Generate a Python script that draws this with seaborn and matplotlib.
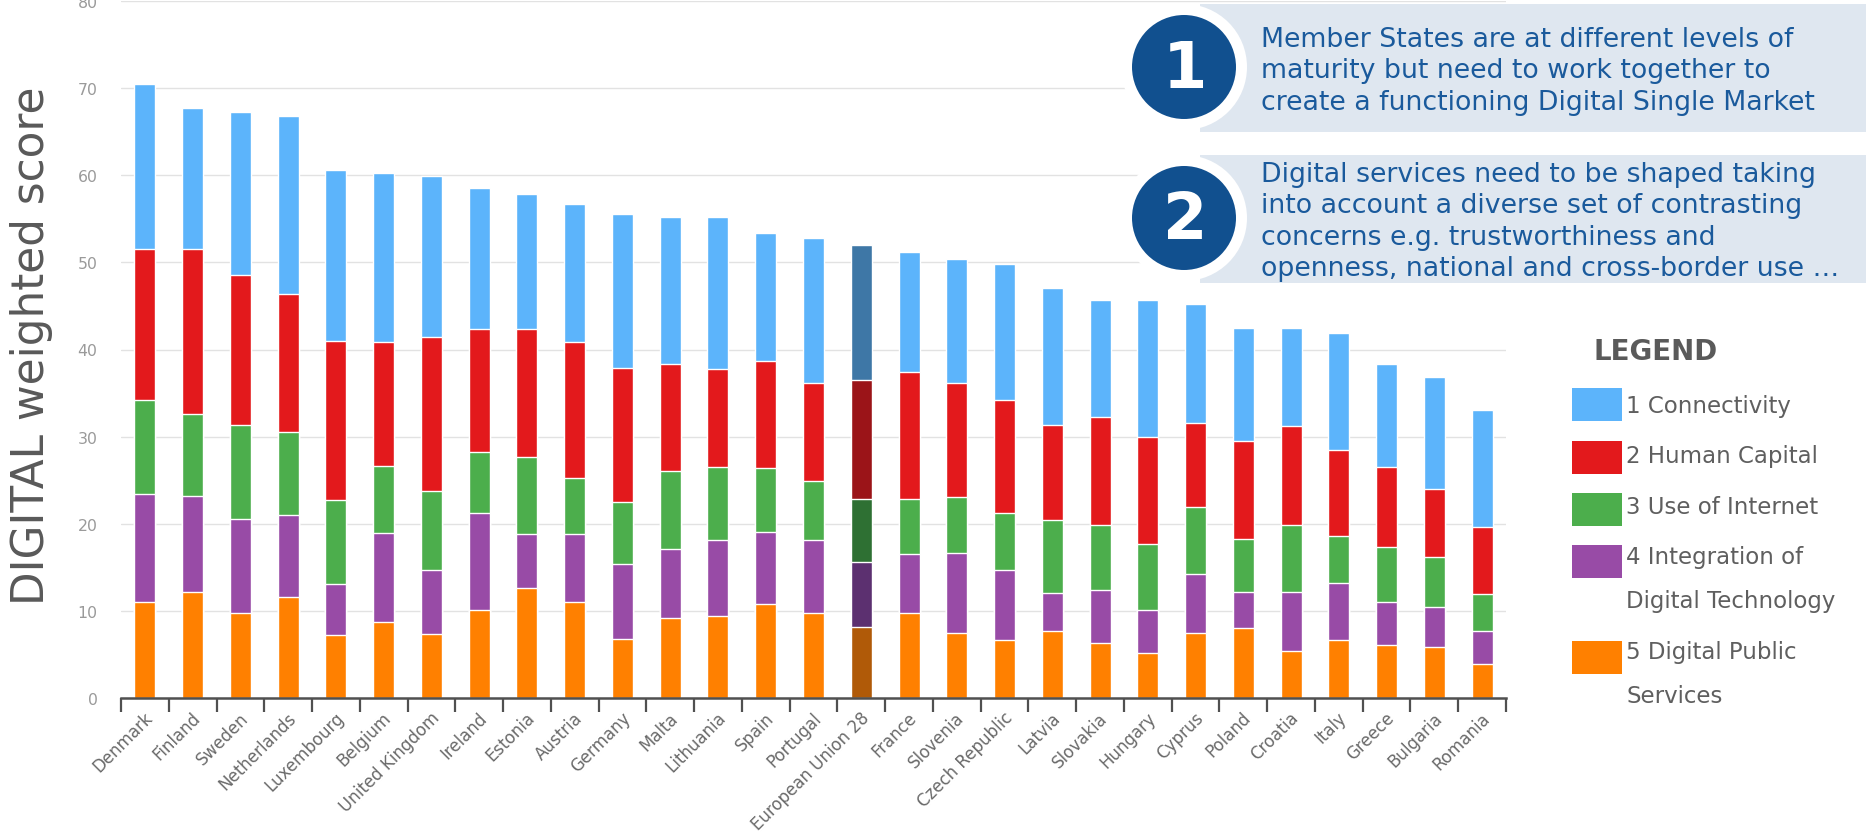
import numpy as np
import pandas as pd
import seaborn as sns
import matplotlib.pyplot as plt
from matplotlib.patches import Rectangle, Ellipse
from matplotlib.transforms import ScaledTranslation

# DESI scores
countries = ['Denmark', 'Finland', 'Sweden', 'Netherlands', 'Luxembourg', 'Belgium',
             'United Kingdom', 'Ireland', 'Estonia', 'Austria', 'Germany', 'Malta',
             'Lithuania', 'Spain', 'Portugal', 'European Union 28', 'France', 'Slovenia',
             'Czech Republic', 'Latvia', 'Slovakia', 'Hungary', 'Cyprus', 'Poland',
             'Croatia', 'Italy', 'Greece', 'Bulgaria', 'Romania']
public_services = [11.0, 12.2, 9.7, 11.6, 7.2, 8.7, 7.4, 10.1, 12.6, 11.0, 6.8, 9.2, 9.4, 10.8, 9.7,
                   8.2, 9.7, 7.5, 6.6, 7.7, 6.3, 5.2, 7.5, 8.0, 5.4, 6.7, 6.1, 5.9, 3.9]
integration = [12.4, 11.0, 10.8, 9.4, 5.9, 10.2, 7.3, 11.1, 6.2, 7.8, 8.6, 7.9, 8.7, 8.3, 8.4,
               7.4, 6.8, 9.2, 8.1, 4.4, 6.1, 4.9, 6.7, 4.2, 6.8, 6.5, 4.9, 4.5, 3.8]
use_internet = [10.8, 9.4, 10.8, 9.5, 9.6, 7.7, 9.1, 7.0, 8.9, 6.5, 7.1, 8.9, 8.4, 7.3, 6.8,
                7.2, 6.3, 6.4, 6.5, 8.3, 7.5, 7.6, 7.7, 6.1, 7.6, 5.4, 6.3, 5.8, 4.2]
human_capital = [17.3, 18.9, 17.2, 15.9, 18.3, 14.3, 17.6, 14.1, 14.6, 15.6, 15.4, 12.3, 11.3, 12.3, 11.2,
                 13.7, 14.6, 13.0, 13.0, 10.9, 12.3, 12.2, 9.7, 11.2, 11.4, 9.9, 9.2, 7.8, 7.7]
connectivity = [19.0, 16.2, 18.8, 20.4, 19.6, 19.4, 18.5, 16.2, 15.5, 15.8, 17.7, 16.9, 17.4, 14.7, 16.7,
                15.5, 13.8, 14.3, 15.6, 15.8, 13.5, 15.8, 13.6, 13.0, 11.3, 13.4, 11.8, 12.9, 13.4]

legend_labels = ['1 Connectivity', '2 Human Capital', '3 Use of Internet',
                 '4 Integration of\nDigital Technology', '5 Digital Public\nServices']
note1 = ['Member States are at different levels of',
         'maturity but need to work together to',
         'create a functioning Digital Single Market']
note2 = ['Digital services need to be shaped taking',
         'into account a diverse set of contrasting',
         'concerns e.g. trustworthiness and',
         'openness, national and cross-border use \u2026']

# colours: connectivity, human capital, internet, integration, public services
colors = ['#5cb4fb', '#e3191c', '#4cae4c', '#984ba6', '#ff8000']
eu_colors = ['#3e77a6', '#9b1418', '#2e7033', '#5c3070', '#b05a08']
eu_name = 'European Union 28'

W, H = 1866, 837
def fx(x):
    return x / W
def fy(y):
    return 1 - y / H

sns.set_style('white')
plt.rcParams['font.family'] = ['DejaVu Sans']

fig = plt.figure(figsize=(W / 100, H / 100), dpi=100)
ax = fig.add_axes([fx(121), fy(699), (1506 - 121) / W, (699 - 2) / H])

df = pd.DataFrame({'country': countries,
                   'public': public_services, 'integration': integration,
                   'internet': use_internet, 'human': human_capital,
                   'connectivity': connectivity})
# stacked tops, bottom -> top
stack_cols = ['public', 'integration', 'internet', 'human', 'connectivity']
tops = df[stack_cols].cumsum(axis=1)

# draw tallest layer first so each lower layer sits on top of it
for k, col in enumerate(reversed(stack_cols)):
    pal = [eu_colors[k] if c == eu_name else colors[k] for c in countries]
    sns.barplot(x=df['country'], y=tops[col], hue=df['country'], palette=pal,
                width=0.44, saturation=1, edgecolor='white', linewidth=1,
                errorbar=None, legend=False, ax=ax)

ax.set_xlim(-0.5, len(countries) - 0.5)
ax.set_ylim(0, 80)
ax.set_yticks(range(0, 81, 10))
ax.set_xlabel('')
ax.set_ylabel('')
ax.yaxis.grid(True, color='#e2e2e2', lw=1)
ax.set_axisbelow(True)
for s in ['top', 'right', 'left']:
    ax.spines[s].set_visible(False)
ax.spines['bottom'].set_color('#505050')
ax.spines['bottom'].set_linewidth(1.8)

ax.tick_params(axis='y', left=False, length=0, pad=17, labelsize=11.3, labelcolor='#9a9a9a')
ax.set_xticks(np.arange(-0.5, len(countries), 1), minor=True)
ax.tick_params(axis='x', which='minor', bottom=True, length=10, width=1.6, color='#505050')
ax.tick_params(axis='x', which='major', bottom=False, length=0, pad=12, labelsize=12,
               labelcolor='#6a6a6a')
offset = ScaledTranslation(5 / 100, 0, fig.dpi_scale_trans)
for lbl in ax.get_xticklabels():
    lbl.set_rotation(45)
    lbl.set_ha('right')
    lbl.set_va('center')
    lbl.set_rotation_mode('anchor')
    lbl.set_transform(lbl.get_transform() + offset)

# y axis title
fig.text(fx(32), fy(346), 'DIGITAL weighted score', rotation=90, ha='center', va='center',
         fontsize=31.5, color='#595959')

# call-out boxes
box_bg = '#dfe7f0'
txt_blue = '#1a5a9c'
circ_blue = '#11508f'
for num, (y0, y1, cy), lines, bases in [
        ('1', (5, 133, 68), note1, [47, 78, 110]),
        ('2', (156, 284, 219), note2, [182, 213, 245, 276])]:
    fig.add_artist(Rectangle((fx(1200), fy(y1)), 1 - fx(1200), (y1 - y0) / H,
                             transform=fig.transFigure, facecolor=box_bg, edgecolor='none'))
    fig.add_artist(Ellipse((fx(1184), fy(cy)), 2 * 63 / W, 2 * 63 / H,
                           transform=fig.transFigure, facecolor='white', edgecolor='none'))
    fig.add_artist(Ellipse((fx(1184), fy(cy)), 2 * 52 / W, 2 * 52 / H,
                           transform=fig.transFigure, facecolor=circ_blue, edgecolor='none'))
    fig.text(fx(1185), fy(cy + 2), num, ha='center', va='center', fontsize=46,
             fontweight='bold', color='white')
    for line, b in zip(lines, bases):
        fig.text(fx(1261), fy(b), line, ha='left', va='baseline', fontsize=19.3,
                 color=txt_blue)

# legend
fig.text(fx(1594), fy(352), 'LEGEND', ha='left', va='center', fontsize=20,
         fontweight='bold', color='#5a5a5a')
sw_top = [389, 442, 494, 546, 642]
line_y = [[406], [457], [507], [558, 602], [653, 697]]
for k, lab in enumerate(legend_labels):
    fig.add_artist(Rectangle((fx(1572), fy(sw_top[k] + 33)), 50 / W, 33 / H,
                             transform=fig.transFigure, facecolor=colors[k], edgecolor='none'))
    for part, y in zip(lab.split('\n'), line_y[k]):
        fig.text(fx(1626), fy(y), part, ha='left', va='center', fontsize=16.5,
                 color='#5f5f5f')

fig.savefig('out.png', dpi=100, facecolor='white')
